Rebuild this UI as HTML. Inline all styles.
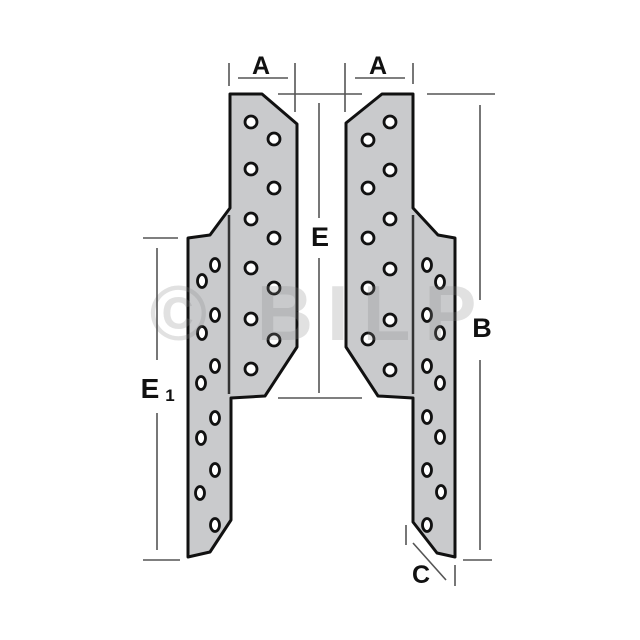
<!DOCTYPE html>
<html><head><meta charset="utf-8"><style>
html,body{margin:0;padding:0;background:#fff;}
svg{display:block}
</style></head><body>
<svg width="640" height="640" viewBox="0 0 640 640" xmlns="http://www.w3.org/2000/svg">
<rect width="640" height="640" fill="#fff"/>
<g fill="#c9cacc" stroke="#111" stroke-width="3" stroke-linejoin="round">
<path d="M230,94 L262,94 L297,124 L297,347 L265,396 L231,398 L231,520 L210,552 L188,557 L188,238 L210,235 L230,208 Z"/>
<path d="M382,94 L413,94 L413,208 L438,235 L455,238 L455,557 L437,553 L413,522 L413,398 L378,396 L346,347 L346,123 Z"/>
</g>
<g stroke="#333" stroke-width="2.5">
<line x1="229" y1="215" x2="229" y2="394"/>
<line x1="413" y1="215" x2="413" y2="394"/>
</g>
<g fill="#fff" stroke="#111" stroke-width="2.8">
<circle cx="251" cy="122" r="6"/><circle cx="274" cy="139" r="6"/>
<circle cx="251" cy="169" r="6"/><circle cx="274" cy="188" r="6"/>
<circle cx="251" cy="219" r="6"/><circle cx="274" cy="238" r="6"/>
<circle cx="251" cy="268" r="6"/><circle cx="274" cy="288" r="6"/>
<circle cx="251" cy="319" r="6"/><circle cx="274" cy="340" r="6"/>
<circle cx="251" cy="369" r="6"/>
<circle cx="390" cy="122" r="6"/><circle cx="368" cy="140" r="6"/>
<circle cx="390" cy="170" r="6"/><circle cx="368" cy="188" r="6"/>
<circle cx="390" cy="219" r="6"/><circle cx="368" cy="238" r="6"/>
<circle cx="390" cy="269" r="6"/><circle cx="368" cy="288" r="6"/>
<circle cx="390" cy="320" r="6"/><circle cx="368" cy="339" r="6"/>
<circle cx="390" cy="370" r="6"/>
<ellipse cx="215" cy="265" rx="4.5" ry="6.5"/><ellipse cx="202" cy="281" rx="4.5" ry="6.5"/>
<ellipse cx="215" cy="315" rx="4.5" ry="6.5"/><ellipse cx="202" cy="333" rx="4.5" ry="6.5"/>
<ellipse cx="215" cy="366" rx="4.5" ry="6.5"/><ellipse cx="201" cy="383" rx="4.5" ry="6.5"/>
<ellipse cx="215" cy="418" rx="4.5" ry="6.5"/><ellipse cx="201" cy="438" rx="4.5" ry="6.5"/>
<ellipse cx="215" cy="470" rx="4.5" ry="6.5"/><ellipse cx="200" cy="493" rx="4.5" ry="6.5"/>
<ellipse cx="215" cy="525" rx="4.5" ry="6.5"/>
<ellipse cx="427" cy="265" rx="4.5" ry="6.5"/><ellipse cx="440" cy="282" rx="4.5" ry="6.5"/>
<ellipse cx="427" cy="315" rx="4.5" ry="6.5"/><ellipse cx="440" cy="333" rx="4.5" ry="6.5"/>
<ellipse cx="427" cy="366" rx="4.5" ry="6.5"/><ellipse cx="440" cy="383" rx="4.5" ry="6.5"/>
<ellipse cx="427" cy="417" rx="4.5" ry="6.5"/><ellipse cx="440" cy="437" rx="4.5" ry="6.5"/>
<ellipse cx="427" cy="470" rx="4.5" ry="6.5"/><ellipse cx="441" cy="492" rx="4.5" ry="6.5"/>
<ellipse cx="427" cy="525" rx="4.5" ry="6.5"/>
</g>
<text x="320" y="340" text-anchor="middle" font-family="Liberation Sans, sans-serif" font-weight="bold" font-size="78" fill="#888" fill-opacity="0.25" letter-spacing="14">© BILP</text>
<g stroke="#555" stroke-width="1.6" fill="none">
<line x1="229" y1="63" x2="229" y2="86"/><line x1="295" y1="63" x2="295" y2="112"/>
<line x1="238" y1="78" x2="288" y2="78"/>
<line x1="345" y1="63" x2="345" y2="112"/><line x1="413" y1="63" x2="413" y2="84"/>
<line x1="355" y1="78" x2="405" y2="78"/>
<line x1="278" y1="94" x2="362" y2="94"/>
<line x1="427" y1="94" x2="495" y2="94"/>
<line x1="319" y1="103" x2="319" y2="218"/><line x1="319" y1="258" x2="319" y2="393"/>
<line x1="278" y1="398" x2="362" y2="398"/>
<line x1="143" y1="238" x2="178" y2="238"/>
<line x1="157" y1="248" x2="157" y2="360"/><line x1="157" y1="413" x2="157" y2="550"/>
<line x1="143" y1="560" x2="180" y2="560"/>
<line x1="480" y1="105" x2="480" y2="300"/><line x1="480" y1="360" x2="480" y2="550"/>
<line x1="463" y1="560" x2="492" y2="560"/>
<line x1="406" y1="525" x2="406" y2="545"/>
<line x1="413" y1="543" x2="446" y2="580"/>
<line x1="455" y1="565" x2="455" y2="586"/>
</g>
<g font-family="Liberation Sans, sans-serif" font-weight="bold" fill="#111" text-anchor="middle">
<text x="261" y="74" font-size="25">A</text>
<text x="378" y="74" font-size="25">A</text>
<text x="320" y="246" font-size="27">E</text>
<text x="150" y="398" font-size="28">E</text>
<text x="170" y="401" font-size="17">1</text>
<text x="482" y="337" font-size="27">B</text>
<text x="421" y="583" font-size="25">C</text>
</g>
</svg>
</body></html>
